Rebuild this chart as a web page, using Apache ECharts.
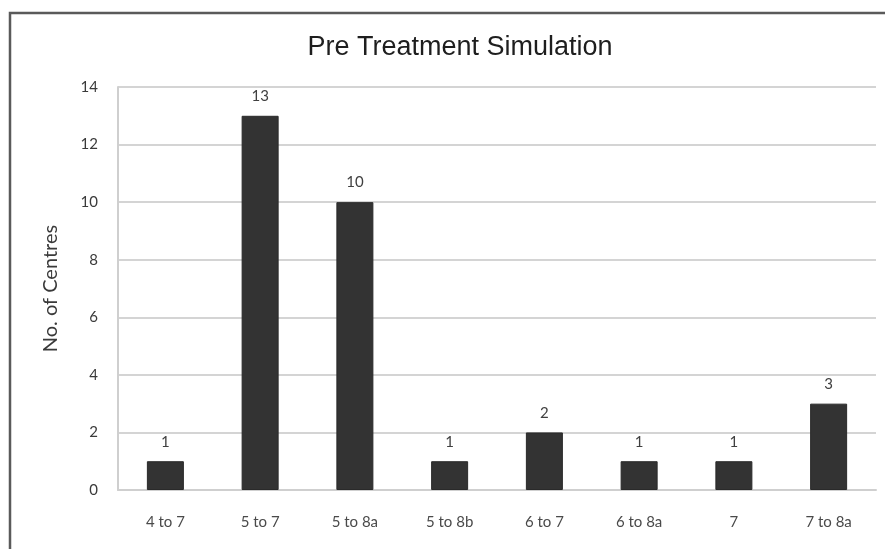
<!DOCTYPE html>
<html>
<head>
<meta charset="utf-8">
<title>Pre Treatment Simulation</title>
<script src="https://cdn.jsdelivr.net/npm/echarts@6/dist/echarts.min.js"></script>
<style>
  html, body { margin: 0; padding: 0; background: #ffffff; }
  #chart { width: 885px; height: 549px; }
</style>
</head>
<body>
<div id="chart"></div>
<script>
// Number of centres per treatment-simulation category
const categories = ['4 to 7', '5 to 7', '5 to 8a', '5 to 8b', '6 to 7', '6 to 8a', '7', '7 to 8a'];
const centres = [1, 13, 10, 1, 2, 1, 1, 3];
const yTicks = { min: 0, max: 14, interval: 2 };

const labelFont = 'Lato, "Open Sans", "Liberation Sans", sans-serif';

const chart = echarts.init(document.getElementById('chart'), null, { renderer: 'canvas' });

chart.setOption({
  backgroundColor: '#ffffff',
  animation: false,
  title: {
    text: 'Pre Treatment Simulation',
    left: 455,
    textAlign: 'center',
    top: 29,
    textStyle: {
      fontFamily: '"Liberation Sans", Arial, sans-serif',
      fontSize: 27,
      fontWeight: 'normal',
      color: '#1e1e1e'
    }
  },
  graphic: [{
    type: 'rect',
    shape: { x: 10, y: 13, width: 885, height: 560 },
    style: { fill: 'none', stroke: '#5a5a5a', lineWidth: 2.5 },
    silent: true,
    z: -1
  }],
  grid: { left: 118, right: 9, top: 87, bottom: 59 },
  xAxis: {
    type: 'category',
    data: categories,
    axisLine: { show: true, lineStyle: { color: '#cfcfcf', width: 2 } },
    axisTick: { show: false },
    axisLabel: {
      margin: 25,
      fontFamily: labelFont,
      fontSize: 15,
      color: '#4a4a4a'
    }
  },
  yAxis: {
    type: 'value',
    min: yTicks.min,
    max: yTicks.max,
    interval: yTicks.interval,
    name: 'No. of Centres',
    nameLocation: 'middle',
    nameGap: 57,
    nameTextStyle: {
      fontFamily: labelFont,
      fontSize: 20,
      color: '#3a3a3a'
    },
    axisLine: { show: true, lineStyle: { color: '#cfcfcf', width: 2 } },
    axisTick: { show: false },
    splitLine: { lineStyle: { color: '#d4d4d4', width: 2 } },
    axisLabel: {
      margin: 20,
      fontFamily: labelFont,
      fontSize: 15,
      color: '#3a3a3a'
    }
  },
  series: [{
    type: 'bar',
    data: centres,
    barWidth: 37,
    itemStyle: { color: '#333333', borderColor: '#2a2a2a', borderWidth: 1 },
    label: {
      show: true,
      position: 'top',
      distance: 12,
      fontFamily: labelFont,
      fontSize: 15,
      color: '#404040'
    }
  }]
});
</script>
</body>
</html>
